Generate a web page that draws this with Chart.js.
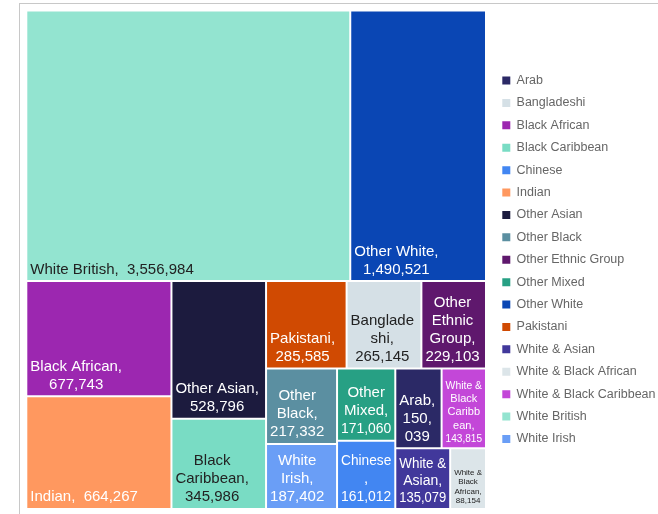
<!DOCTYPE html>
<html>
<head>
<meta charset="utf-8">
<title>Population by ethnic group</title>
<script src="https://cdn.jsdelivr.net/npm/chart.js@4.4.1/dist/chart.umd.min.js"></script>
<style>
  html, body { margin: 0; padding: 0; background: #fff; overflow: hidden; }
  #frame {
    position: absolute; left: 19px; top: 3px; right: 0; bottom: 0;
    border-top: 1px solid #c8c8c8; border-left: 1px solid #c8c8c8;
  }
  #chart { position: absolute; left: 0; top: 0; }
</style>
</head>
<body>
<div id="frame"></div>
<canvas id="chart" width="658" height="514"></canvas>
<script>
const groups = [
  'White British', 'Other White', 'Black African', 'Indian', 'Other Asian',
  'Black Caribbean', 'Pakistani', 'Bangladeshi', 'Other Ethnic Group',
  'Other Black', 'White Irish', 'Other Mixed', 'Chinese', 'Arab',
  'White & Black Caribbean', 'White & Asian', 'White & Black African'
];
const population = [
  3556984, 1490521, 677743, 664267, 528796,
  345986, 285585, 265145, 229103,
  217332, 187402, 171060, 161012, 150039,
  143815, 135079, 88154
];
const colours = [
  '#93e4d0', '#0a46b4', '#9c27b0', '#ff985f', '#1c1b3e',
  '#79dcc4', '#d04a02', '#d5e0e6', '#5f186d',
  '#5b8fa1', '#6a9ef6', '#27a084', '#4286f2', '#2b2966',
  '#c347d8', '#41389b', '#dce5e9'
];

const FONT = '"Liberation Sans", Arial, sans-serif';
const PAD_X = 3;
Chart.defaults.font.family = FONT;

// squarified layout, values are expected largest first
function worst(row, side) {
  const s = row.reduce((a, b) => a + b, 0);
  const max = Math.max(...row), min = Math.min(...row);
  return Math.max(side * side * max / (s * s), (s * s) / (side * side * min));
}

function squarify(values, x, y, w, h) {
  const total = values.reduce((a, b) => a + b, 0);
  const areas = values.map(v => v * w * h / total);
  const out = [];
  let i = 0;
  while (i < areas.length) {
    const side = Math.min(w, h);
    const row = [areas[i]];
    let j = i + 1;
    while (j < areas.length && worst(row.concat(areas[j]), side) <= worst(row, side)) {
      row.push(areas[j]);
      j++;
    }
    const sum = row.reduce((a, b) => a + b, 0);
    if (w >= h) {
      const cw = sum / h;
      let cy = y;
      row.forEach(a => { out.push({x, y: cy, w: cw, h: a / cw}); cy += a / cw; });
      x += cw; w -= cw;
    } else {
      const rh = sum / w;
      let cx = x;
      row.forEach(a => { out.push({x: cx, y, w: a / rh, h: rh}); cx += a / rh; });
      y += rh; h -= rh;
    }
    i = j;
  }
  return out;
}

// break "name, value" into lines that fit the tile width
function wrapLabel(ctx, name, value, avail) {
  const tol = 1.15;
  const width = s => ctx.measureText(s).width;
  const single = name + ',  ' + value;
  if (width(single) <= avail) return [single];

  const lines = [];
  const pieces = name.split(/ (?!&)/).map((t, k) => ({t, gap: k > 0}));
  pieces.push({t: ',', gap: false});
  let line = '';
  for (const p of pieces) {
    const cand = line ? line + (p.gap ? ' ' : '') + p.t : p.t;
    if (width(cand) <= avail) { line = cand; continue; }
    if (line) { lines.push(line); line = ''; }
    if (width(p.t) <= avail * tol) { line = p.t; continue; }
    for (const ch of p.t) {
      if (line && width(line + ch) > avail) { lines.push(line); line = ''; }
      line += ch;
    }
  }
  if (line) lines.push(line);

  if (width(value) <= avail * tol) {
    lines.push(value);
  } else {
    let cur = '';
    value.split(/(?<=,)/).forEach(part => {
      if (cur && width(cur + part) > avail) { lines.push(cur); cur = ''; }
      cur += part;
    });
    lines.push(cur);
  }
  return lines;
}

function fitLabel(ctx, name, value, box) {
  const avail = box.w - 2 * PAD_X;
  for (let size = 15; size >= 6; size--) {
    ctx.font = size + 'px ' + FONT;
    const lines = wrapLabel(ctx, name, value, avail);
    if (lines.length * size * 1.2 <= box.h - 6) return {size, lines, avail};
  }
  return null;
}

function labelColour(hex) {
  const c = parseInt(hex.slice(1), 16);
  const ch = [c >> 16, (c >> 8) & 255, c & 255].map(v => {
    v /= 255;
    return v <= 0.03928 ? v / 12.92 : Math.pow((v + 0.055) / 1.055, 2.4);
  });
  const lum = 0.2126 * ch[0] + 0.7152 * ch[1] + 0.0722 * ch[2];
  return lum > 0.5 ? '#222222' : '#ffffff';
}

class TreemapController extends Chart.DatasetController {
  static id = 'treemap';
  static defaults = {
    datasetElementType: false,
    dataElementType: 'bar',
    spacing: 1
  };

  update(mode) {
    const meta = this._cachedMeta;
    this.updateElements(meta.data, 0, meta.data.length, mode);
  }

  updateElements(tiles, start, count, mode) {
    const meta = this._cachedMeta;
    const {xScale, yScale} = meta;
    const left = xScale.getPixelForValue(xScale.min);
    const right = xScale.getPixelForValue(xScale.max);
    const top = yScale.getPixelForValue(yScale.max);
    const bottom = yScale.getPixelForValue(yScale.min);
    const values = meta._parsed.map(p => p.y);
    const rects = squarify(values, left, top, right - left, bottom - top);
    const gap = this.options.spacing;

    for (let i = start; i < start + count; i++) {
      const r = rects[i];
      this.updateElement(tiles[i], i, {
        x: r.x + r.w / 2,
        y: r.y + gap,
        base: r.y + r.h - gap,
        width: r.w - 2 * gap,
        height: r.h - 2 * gap,
        horizontal: false,
        borderSkipped: {},
        inflateAmount: 0,
        options: this.resolveDataElementOptions(i, mode)
      }, mode);
    }
  }

  draw() {
    super.draw();
    const ctx = this.chart.ctx;
    const names = this.chart.data.labels;
    const data = this.getDataset().data;

    this._cachedMeta.data.forEach((tile, i) => {
      const {x, y, base, width} = tile.getProps(['x', 'y', 'base', 'width'], true);
      const box = {left: x - width / 2, top: y, w: width, h: base - y};
      const fit = fitLabel(ctx, names[i], data[i].toLocaleString('en-US'), box);
      if (!fit) return;

      ctx.save();
      ctx.font = fit.size + 'px ' + FONT;
      ctx.fillStyle = labelColour(tile.options.backgroundColor);
      ctx.textAlign = 'center';
      ctx.textBaseline = 'middle';
      const blockW = Math.max(...fit.lines.map(l => Math.min(ctx.measureText(l).width, fit.avail)));
      const cx = box.left + PAD_X + blockW / 2;
      const lh = fit.size * 1.2;
      let ly = box.top + box.h - 2.5 - fit.size * 0.55 - (fit.lines.length - 1) * lh;
      fit.lines.forEach(line => {
        ctx.fillText(line, cx, ly, fit.avail);
        ly += lh;
      });
      ctx.restore();
    });
  }
}

Chart.register(TreemapController);

new Chart(document.getElementById('chart'), {
  type: 'treemap',
  data: {
    labels: groups,
    datasets: [{
      label: 'Population',
      data: population,
      backgroundColor: colours,
      borderWidth: 0
    }]
  },
  options: {
    responsive: false,
    animation: false,
    events: [],
    layout: {
      padding: {left: 26.3, top: 10.5, right: 0, bottom: 5}
    },
    scales: {
      x: {type: 'linear', min: 0, max: 1, display: false},
      y: {
        type: 'linear', min: 0, max: 1, position: 'right',
        ticks: {display: false},
        grid: {display: false},
        border: {display: false},
        // keeps a small gap between the tiles and the legend
        afterFit: scale => { scale.width = 6.4; }
      }
    },
    plugins: {
      tooltip: {enabled: false},
      legend: {
        position: 'right',
        maxWidth: 165.6,
        labels: {
          boxWidth: 8,
          boxHeight: 8,
          padding: 9.9,
          color: '#666666',
          font: {size: 12.5},
          generateLabels: () => groups
            .map((g, i) => ({
              text: g,
              fillStyle: colours[i],
              strokeStyle: colours[i],
              lineWidth: 0,
              hidden: false,
              index: i,
              fontColor: '#666666'
            }))
            .sort((a, b) => (a.text < b.text ? -1 : 1))
        }
      }
    }
  }
});
</script>
</body>
</html>
